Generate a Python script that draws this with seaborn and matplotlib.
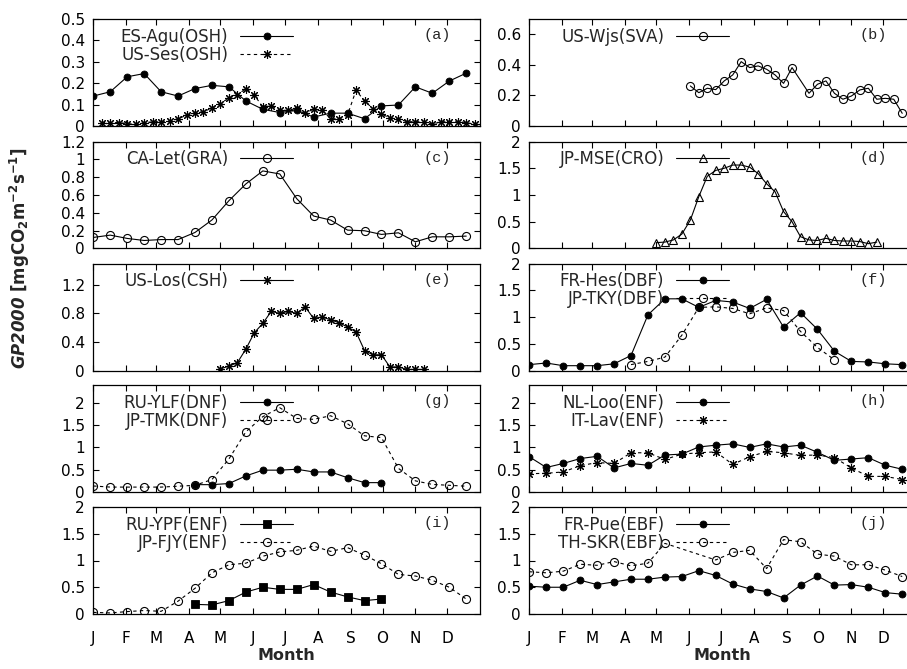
import numpy as np
import pandas as pd
import matplotlib
matplotlib.use("Agg")
import matplotlib.pyplot as plt
import seaborn as sns
from matplotlib.ticker import FuncFormatter

# ---------------- data ----------------
MONTH_START = [0, 31, 59, 90, 120, 151, 181, 212, 243, 273, 304, 334]
MONTH_LABELS = ["J", "F", "M", "A", "M", "J", "J", "A", "S", "O", "N", "D"]

DOY16 = [0, 16, 32, 48, 64, 80, 96, 112, 128, 144, 160, 176, 192, 208, 224,
         240, 256, 272, 288, 304, 320, 336, 352]

ES_AGU = [0.14, 0.16, 0.23, 0.245, 0.16, 0.14, 0.175, 0.19, 0.183, 0.117, 0.078,
          0.063, 0.073, 0.042, 0.06, 0.06, 0.034, 0.094, 0.098, 0.183, 0.153, 0.21, 0.247]
US_SES_DAYS = [8, 16, 24, 32, 40, 48, 56, 64, 72, 80, 88, 96, 104, 112, 120, 128, 136,
               144, 152, 160, 168, 176, 184, 192, 200, 208, 216, 224, 232, 240, 248,
               256, 264, 272, 280, 288, 296, 304, 312, 320, 328, 336, 344, 352, 360]
US_SES = [0.016, 0.016, 0.016, 0.011, 0.008, 0.016, 0.019, 0.019, 0.023, 0.034,
          0.05, 0.062, 0.067, 0.084, 0.105, 0.131, 0.145, 0.175, 0.144, 0.089,
          0.094, 0.073, 0.073, 0.083, 0.062, 0.078, 0.073, 0.034, 0.034, 0.052,
          0.167, 0.117, 0.081, 0.055, 0.039, 0.034, 0.02, 0.02, 0.02, 0.008,
          0.02, 0.02, 0.02, 0.016, 0.008]

US_WJS_DAYS = [152, 160, 168, 176, 184, 192, 200, 208, 216, 224, 232, 240, 248,
               264, 272, 280, 288, 296, 304, 312, 320, 328, 336, 344, 352]
US_WJS = [0.262, 0.218, 0.247, 0.238, 0.295, 0.334, 0.421, 0.382, 0.393, 0.371,
          0.334, 0.279, 0.382, 0.214, 0.273, 0.295, 0.214, 0.175, 0.196, 0.236,
          0.247, 0.175, 0.181, 0.175, 0.083]

CA_LET = [0.124, 0.15, 0.113, 0.09, 0.10, 0.10, 0.18, 0.32, 0.536, 0.724, 0.87,
          0.836, 0.559, 0.364, 0.319, 0.206, 0.199, 0.158, 0.176, 0.075, 0.131, 0.131, 0.139]

JP_MSE_DAYS = [120, 128, 136, 144, 152, 160, 168, 176, 184, 192, 200, 208, 216, 224,
               232, 240, 248, 256, 264, 272, 280, 288, 296, 304, 312, 320, 328]
JP_MSE = [0.11, 0.12, 0.16, 0.27, 0.53, 0.97, 1.35, 1.46, 1.50, 1.56, 1.56, 1.52,
          1.40, 1.21, 1.06, 0.69, 0.50, 0.22, 0.16, 0.15, 0.19, 0.15, 0.14, 0.14,
          0.13, 0.09, 0.12]

US_LOS_DAYS = [120, 128, 136, 144, 152, 160, 168, 176, 184, 192, 200, 208, 216, 224,
               232, 240, 248, 256, 264, 272, 280, 288, 296, 304, 312]
US_LOS = [0.024, 0.06, 0.11, 0.30, 0.53, 0.66, 0.83, 0.80, 0.83, 0.80, 0.89, 0.73,
          0.75, 0.71, 0.67, 0.61, 0.54, 0.28, 0.22, 0.22, 0.05, 0.05, 0.015, 0.015, 0.015]

FR_HES = [0.11, 0.14, 0.09, 0.09, 0.09, 0.125, 0.28, 1.04, 1.34, 1.34, 1.18, 1.31,
          1.28, 1.16, 1.33, 0.81, 1.08, 0.77, 0.36, 0.17, 0.16, 0.125, 0.11]
JP_TKY_DAYS = [96, 112, 128, 144, 160, 176, 192, 208, 224, 240, 256, 272, 288]
JP_TKY = [0.11, 0.17, 0.25, 0.66, 1.18, 1.19, 1.16, 1.06, 1.17, 1.12, 0.73, 0.43, 0.20]

RU_YLF_DAYS = [96, 112, 128, 144, 160, 176, 192, 208, 224, 240, 256, 272]
RU_YLF = [0.165, 0.165, 0.19, 0.36, 0.49, 0.49, 0.51, 0.45, 0.45, 0.32, 0.21, 0.21]
JP_TMK = [0.135, 0.11, 0.11, 0.11, 0.11, 0.13, 0.15, 0.28, 0.74, 1.35, 1.69, 1.89,
          1.65, 1.63, 1.71, 1.53, 1.26, 1.22, 0.53, 0.25, 0.17, 0.15, 0.13]

NL_LOO = [0.79, 0.55, 0.64, 0.75, 0.80, 0.54, 0.64, 0.60, 0.83, 0.85, 1.01, 1.05,
          1.08, 1.00, 1.08, 1.01, 1.05, 0.89, 0.71, 0.74, 0.77, 0.60, 0.51]
IT_LAV = [0.41, 0.42, 0.45, 0.59, 0.66, 0.64, 0.88, 0.88, 0.73, 0.85, 0.88, 0.90,
          0.62, 0.79, 0.91, 0.88, 0.82, 0.83, 0.77, 0.54, 0.35, 0.35, 0.28]

RU_YPF_DAYS = [96, 112, 128, 144, 160, 176, 192, 208, 224, 240, 256, 272]
RU_YPF = [0.18, 0.17, 0.25, 0.41, 0.50, 0.46, 0.46, 0.55, 0.41, 0.32, 0.25, 0.28]
JP_FJY = [0.03, 0.02, 0.045, 0.065, 0.05, 0.24, 0.48, 0.77, 0.92, 0.95, 1.08, 1.16,
          1.19, 1.27, 1.17, 1.24, 1.10, 0.94, 0.74, 0.71, 0.63, 0.50, 0.28]

FR_PUE = [0.52, 0.50, 0.50, 0.63, 0.55, 0.60, 0.65, 0.65, 0.69, 0.70, 0.81, 0.72,
          0.56, 0.47, 0.42, 0.30, 0.54, 0.71, 0.54, 0.55, 0.50, 0.40, 0.37]
TH_SKR_DAYS = [0, 16, 32, 48, 64, 80, 96, 112, 128, 176, 192, 208, 224, 240, 256,
               272, 288, 304, 320, 336, 352]
TH_SKR = [0.79, 0.77, 0.80, 0.93, 0.91, 0.98, 0.90, 0.95, 1.32, 1.01, 1.15, 1.19,
          0.85, 1.39, 1.35, 1.12, 1.08, 0.92, 0.92, 0.82, 0.70]

# panel definitions: tag, y max, y tick step, series (label, days, values, marker style, dashed)
PANELS = [
    ("(a)", 0.5, 0.1, [("ES-Agu(OSH)", DOY16, ES_AGU, "fcircle", False),
                       ("US-Ses(OSH)", US_SES_DAYS, US_SES, "star", True)]),
    ("(b)", 0.7, 0.2, [("US-Wjs(SVA)", US_WJS_DAYS, US_WJS, "ocircle", False)]),
    ("(c)", 1.2, 0.2, [("CA-Let(GRA)", DOY16, CA_LET, "ocircle", False)]),
    ("(d)", 2.0, 0.5, [("JP-MSE(CRO)", JP_MSE_DAYS, JP_MSE, "triangle", False)]),
    ("(e)", 1.5, 0.4, [("US-Los(CSH)", US_LOS_DAYS, US_LOS, "star", False)]),
    ("(f)", 2.0, 0.5, [("FR-Hes(DBF)", DOY16, FR_HES, "fcircle", False),
                       ("JP-TKY(DBF)", JP_TKY_DAYS, JP_TKY, "ocircle", True)]),
    ("(g)", 2.4, 0.5, [("RU-YLF(DNF)", RU_YLF_DAYS, RU_YLF, "fcircle", False),
                       ("JP-TMK(DNF)", DOY16, JP_TMK, "ocircle", True)]),
    ("(h)", 2.4, 0.5, [("NL-Loo(ENF)", DOY16, NL_LOO, "fcircle", False),
                       ("IT-Lav(ENF)", DOY16, IT_LAV, "star", True)]),
    ("(i)", 2.0, 0.5, [("RU-YPF(ENF)", RU_YPF_DAYS, RU_YPF, "square", False),
                       ("JP-FJY(ENF)", DOY16, JP_FJY, "ocircle", True)]),
    ("(j)", 2.0, 0.5, [("FR-Pue(EBF)", DOY16, FR_PUE, "fcircle", False),
                       ("TH-SKR(EBF)", TH_SKR_DAYS, TH_SKR, "ocircle", True)]),
]

# ---------------- styling ----------------
sns.set_style("ticks")
plt.rcParams['font.family'] = ['DejaVu Sans']
plt.rcParams['mathtext.fontset'] = 'custom'
plt.rcParams['mathtext.rm'] = 'DejaVu Sans'
plt.rcParams['mathtext.bf'] = 'DejaVu Sans:bold'
plt.rcParams['mathtext.it'] = 'DejaVu Sans:italic'
try:
    plt.rcParams['mathtext.bfit'] = 'DejaVu Sans:bold:italic'
except KeyError:
    pass

MARKERS = {
    "fcircle": dict(marker="o", ms=5.0, mfc="k", mec="k", mew=0.6),
    "ocircle": dict(marker="o", ms=5.8, mfc="none", mec="k", mew=0.8),
    "star": dict(marker=(8, 2, 0), ms=6.3, mfc="k", mec="k", mew=0.8),
    "triangle": dict(marker="^", ms=5.8, mfc="none", mec="k", mew=0.8),
    "square": dict(marker="s", ms=5.3, mfc="k", mec="k", mew=0.6),
}

W, H = 907, 669
fig = plt.figure(figsize=(W / 100, H / 100), dpi=100)

col_left = [93.3, 529.3]
ax_w = 386.7
row_tops = [19, 141.5, 263.5, 385, 507]
ax_h = 107

for idx, (tag, ymax, ystep, series) in enumerate(PANELS):
    r, c = divmod(idx, 2)
    left = col_left[c] / W
    bottom = 1 - (row_tops[r] + ax_h) / H
    ax = fig.add_axes([left, bottom, ax_w / W, ax_h / H])
    for label, days, vals, mk, dashed in series:
        ls = (0, (3, 3)) if dashed else "-"
        sns.lineplot(x=days, y=vals, ax=ax, estimator=None, sort=False,
                     color="k", lw=0.8, linestyle=ls, label=label, legend=False,
                     **MARKERS[mk])
    ax.set_xlim(0, 365)
    ax.set_ylim(0, ymax)
    ax.set_xticks(MONTH_START)
    yt = np.arange(0, ymax + 1e-9, ystep)
    ax.set_yticks(yt)
    ax.yaxis.set_major_formatter(FuncFormatter(lambda v, p: f"{v:g}"))
    ax.tick_params(direction="in", top=True, right=True, length=4, width=0.8,
                   labelsize=11, colors="k")
    ax.tick_params(axis="y", pad=6)
    ax.tick_params(axis="x", pad=12)
    for s in ax.spines.values():
        s.set_linewidth(0.9)
        s.set_color("k")
    if r == 4:
        ax.set_xticklabels(MONTH_LABELS)
        ax.set_xlabel("Month", fontsize=11.5, fontweight="bold", labelpad=2)
    else:
        ax.set_xticklabels([])
        ax.set_xlabel("")
    ax.set_ylabel("")
    ax.legend(loc="upper right", bbox_to_anchor=(0.517, 0.92), frameon=False,
              markerfirst=False, handlelength=3.2, handletextpad=0.7,
              borderpad=0, borderaxespad=0, labelspacing=0.0, fontsize=12)
    ax.text(0.89, 0.85, tag, transform=ax.transAxes, ha="center", va="center",
            fontsize=11, family="Liberation Mono")

fig.text(20 / W, 1 - 258 / H,
         r"$\mathbfit{GP2000}$ $\mathbf{[mgCO_2m^{-2}s^{-1}]}$",
         rotation=90, ha="center", va="center", fontsize=12)

fig.savefig("out.png", dpi=100)
